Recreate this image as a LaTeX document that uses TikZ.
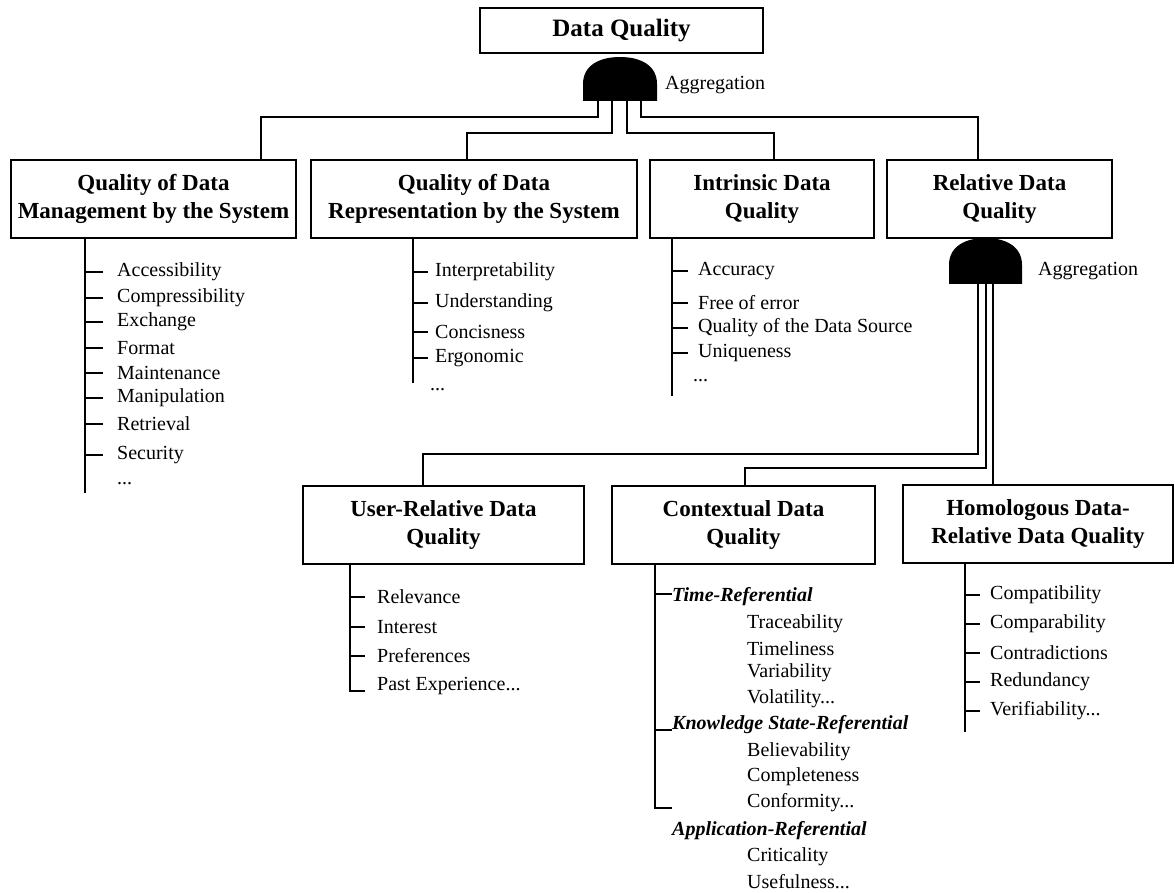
\documentclass[tikz,border=0pt]{standalone}
\usepackage{fontspec}
\setmainfont{Liberation Serif}
\begin{document}
\begin{tikzpicture}[x=1pt,y=-1pt,
  box/.style={draw, line width=2pt, align=center, inner sep=0pt,
    font=\fontsize{23}{28}\selectfont\bfseries, minimum height=78pt},
  conn/.style={line width=1.8pt},
  tick/.style={line width=1.7pt},
  item/.style={anchor=west, inner sep=0pt, font=\fontsize{20}{24}\selectfont},
  cat/.style={anchor=west, inner sep=0pt, font=\fontsize{20}{24}\selectfont\bfseries\itshape},
  dome/.style={fill=black},
]
\useasboundingbox (0,0) rectangle (1175,893);

% ---- boxes ----
\node[box, minimum width=283pt, minimum height=45pt, font=\fontsize{25}{30}\selectfont\bfseries] (dq) at (621.5,30.5) {Data Quality};
\node[box, minimum width=285pt] (A) at (153.5,199) {Quality of Data\\Management by the System};
\node[box, minimum width=326pt] (B) at (474,199) {Quality of Data\\Representation by the System};
\node[box, minimum width=224pt] (C) at (762,199) {Intrinsic Data\\Quality};
\node[box, minimum width=225pt] (D) at (999.5,199) {Relative Data\\Quality};
\node[box, minimum width=281pt] (U) at (443.5,525) {User-Relative Data\\Quality};
\node[box, minimum width=263pt] (X) at (743.5,525) {Contextual Data\\Quality};
\node[box, minimum width=270pt] (H) at (1038,524) {Homologous Data-\\Relative Data Quality};

% ---- aggregation 1 ----
\fill[dome] (583,101) -- (583,84) .. controls (583,65) and (600,57) .. (620,57)
  .. controls (640,57) and (657,65) .. (657,84) -- (657,101) -- cycle;
\node[item] (ag1) at (665,85) {Aggregation};
\coordinate (l1) at (598,100);
\coordinate (l2) at (612,100);
\coordinate (l3) at (627,100);
\coordinate (l4) at (641,100);
\coordinate (k1) at (261,117);
\coordinate (k2) at (467,133);
\coordinate (k3) at (774,133);
\coordinate (k4) at (978,117);
\draw[conn] (l1) |- (k1) -- (k1 |- A.north);
\draw[conn] (l2) |- (k2) -- (k2 |- B.north);
\draw[conn] (l3) |- (k3) -- (k3 |- C.north);
\draw[conn] (l4) |- (k4) -- (k4 |- D.north);

% ---- aggregation 2 ----
\fill[dome] (949,284) -- (949,265) .. controls (949,246) and (966,238) .. (985.5,238)
  .. controls (1005,238) and (1022,246) .. (1022,265) -- (1022,284) -- cycle;
\node[item] (ag2) at (1038,271) {Aggregation};
\coordinate (m1) at (978,283);
\coordinate (m2) at (986,283);
\coordinate (m3) at (993,283);
\coordinate (n1) at (423,454);
\coordinate (n2) at (745,468);
\draw[conn] (m1) |- (n1) -- (n1 |- U.north);
\draw[conn] (m2) |- (n2) -- (n2 |- X.north);
\draw[conn] (m3) -- (m3 |- H.north);

% ---- list A ----
\coordinate (aV) at (85,0);
\draw[conn] (A.south -| aV) -- ++(0,254);
\foreach \t/\y/\n in {Accessibility/272/a1, Compressibility/298/a2, Exchange/322/a3,
  Format/348/a4, Maintenance/373/a5, Manipulation/398/a6, Retrieval/424/a7, Security/455/a8}{
  \node[item] (\n) at (117,\y) {\t};
  \draw[tick] (aV |- \n.west) -- ++(18,0);
}
\node[item] (a9) at (117,484) {...};

% ---- list B ----
\coordinate (bV) at (413,0);
\draw[conn] (B.south -| bV) -- ++(0,144);
\foreach \t/\y/\n in {Interpretability/272/b1, Understanding/303/b2, Concisness/332/b3, Ergonomic/358/b4}{
  \node[item] (\n) at (435,\y) {\t};
  \draw[tick] (bV |- \n.west) -- ++(15,0);
}
\node[item] (b5) at (430,390) {...};

% ---- list C ----
\coordinate (cV) at (672,0);
\draw[conn] (C.south -| cV) -- ++(0,157);
\foreach \t/\y/\n in {Accuracy/271/c1, Free of error/303/c2, Quality of the Data Source/328/c3, Uniqueness/353/c4}{
  \node[item] (\n) at (698,\y) {\t};
  \draw[tick] (cV |- \n.west) -- ++(16,0);
}
\node[item] (c5) at (693,381) {...};

% ---- list U ----
\coordinate (uV) at (350,0);
\foreach \t/\y/\n in {Relevance/597/u1, Interest/627/u2, Preferences/656/u3}{
  \node[item] (\n) at (377,\y) {\t};
  \draw[tick] (uV |- \n.west) -- ++(15,0);
}
\node[item] (u4) at (377,686) {Past Experience...};
\draw[conn] (U.south -| uV) |- ++(15,126);

% ---- list X ----
\coordinate (xV) at (655,0);
\node[cat] (x1) at (672,597) {Time-Referential};
\node[item] (x2) at (747,624) {Traceability};
\node[item] (x3) at (747,649) {Timeliness};
\node[item] (x4) at (747,673) {Variability};
\node[item] (x5) at (747,699) {Volatility...};
\node[cat] (x6) at (672,725) {Knowledge State-Referential};
\node[item] (x7) at (747,752) {Believability};
\node[item] (x8) at (747,777) {Completeness};
\node[item] (x9) at (747,803) {Conformity...};
\node[cat] (x10) at (672,831) {Application-Referential};
\node[item] (x11) at (747,857) {Criticality};
\node[item] (x12) at (747,882) {Usefulness...};
\draw[conn] (X.south -| xV) |- ++(17,243);
\draw[tick] (xV |- x1.west) ++(0,-3) -- ++(17,0);
\draw[tick] (xV |- x6.west) ++(0,5) -- ++(17,0);

% ---- list H ----
\coordinate (hV) at (965,0);
\draw[conn] (H.south -| hV) -- ++(0,168);
\foreach \t/\y/\n in {Compatibility/595/h1, Comparability/624/h2, Contradictions/653/h3,
  Redundancy/682/h4}{
  \node[item] (\n) at (990,\y) {\t};
  \draw[tick] (hV |- \n.west) -- ++(15,0);
}
\node[item] (h5) at (990,711) {Verifiability...};
\draw[tick] (hV |- h5.west) -- ++(15,0);
\end{tikzpicture}
\end{document}
